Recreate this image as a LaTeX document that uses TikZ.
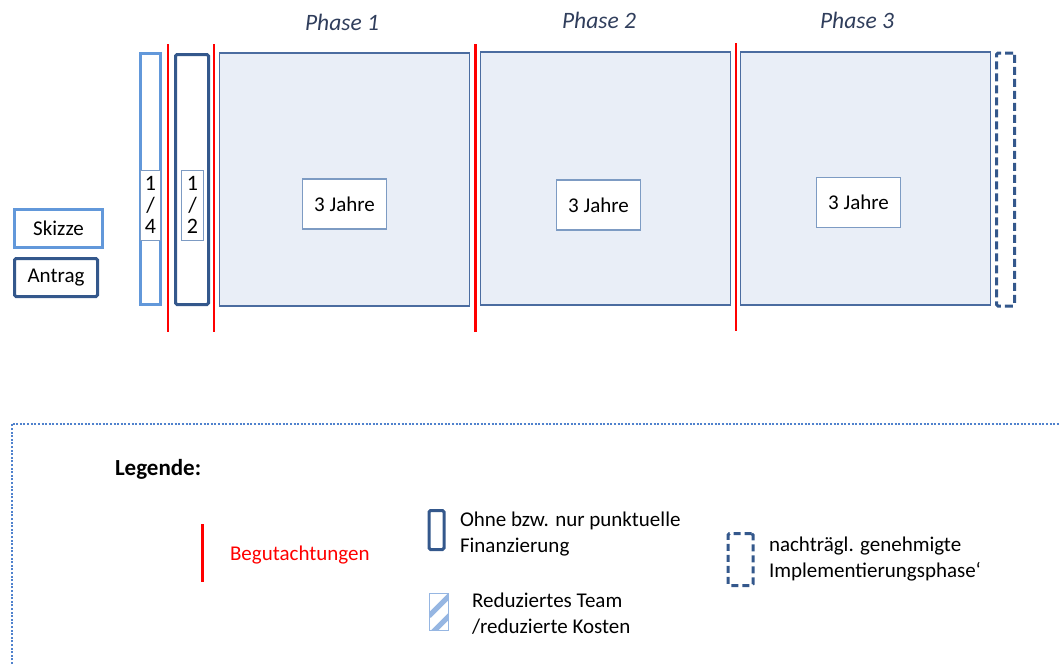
\documentclass[tikz,border=0pt]{standalone}
\usepackage{fontspec}
\setmainfont{Carlito}
\definecolor{skizzeblue}{RGB}{98,152,218}
\definecolor{antragblue}{RGB}{52,88,140}
\definecolor{phasefill}{RGB}{233,238,247}
\definecolor{phaseedge}{RGB}{75,108,160}
\definecolor{innerEdge}{RGB}{125,155,195}
\definecolor{phasetext}{RGB}{48,62,92}
\definecolor{legendblue}{RGB}{80,130,205}
\definecolor{hatchblue}{RGB}{150,182,226}
\begin{document}
\begin{tikzpicture}[x=1pt,y=-1pt,
  every node/.style={inner sep=0pt, outer sep=0pt},
  txt/.style={font=\fontsize{21}{26}\selectfont, text=black},
  skizzebox/.style={draw=skizzeblue, line width=2.6pt, fill=white, anchor=north west},
  antragbox/.style={draw=antragblue, line width=3pt, fill=white, rounded corners=1.5pt, anchor=north west},
  phasebox/.style={draw=phaseedge, line width=1.3pt, fill=phasefill, anchor=north west},
  yearbox/.style={draw=innerEdge, line width=1.2pt, fill=white, anchor=north west, txt,
    minimum width=84pt, minimum height=50pt},
  fracbox/.style={draw=innerEdge, line width=1pt, fill=white, anchor=north west, align=center,
    font=\fontsize{22}{21.5}\selectfont},
  laterbox/.style={draw=antragblue, line width=3pt, dash pattern=on 8pt off 4pt, rounded corners=1.5pt, anchor=north west},
  review/.style={draw=red, line width=2.8pt},
  phaselabel/.style={font=\fontsize{23.5}{28}\selectfont\itshape, text=phasetext},
  legtext/.style={txt, align=left, anchor=west}]
\useasboundingbox (0,0) rectangle (1059,664);
\clip (0,0) rectangle (1059,664);

% application stages on the left
\node[skizzebox, txt, minimum width=88pt, minimum height=38pt] (skizze) at (14.5,209.5) {Skizze\hspace{10pt}};
\node[antragbox, txt, minimum width=83pt, minimum height=38pt] (antrag) at (14.5,258.5) {Antrag};

% reduced preparatory bars
\node[skizzebox, minimum width=20pt, minimum height=251pt] (sbar) at (140.5,53.5) {};
\node[fracbox, minimum width=20pt, minimum height=70pt] (quarter) at (140.5,170) {1\\/\\4};
\node[antragbox, minimum width=33pt, minimum height=250pt] (abar) at (175.5,54.5) {};
\node[fracbox, minimum width=22pt, minimum height=70pt] (half) at (181.5,170) {1\\/\\2};

% the three phases
\node[phasebox, minimum width=250pt, minimum height=253pt] (ph1) at (219.5,53) {};
\node[phasebox, minimum width=250pt, minimum height=253pt] (ph2) at (480.5,52) {};
\node[phasebox, minimum width=250pt, minimum height=253pt] (ph3) at (740.5,52) {};
\node[yearbox] (y1) at (302.5,179) {3 Jahre};
\node[yearbox] (y2) at (556.5,180) {3 Jahre};
\node[yearbox] (y3) at (816.5,177.5) {3 Jahre};
\node[phaselabel] (l1) at (342,22) {Phase 1};
\node[phaselabel] (l2) at (599,20) {Phase 2};
\node[phaselabel] (l3) at (857,20) {Phase 3};

% optional implementation phase
\node[laterbox, minimum width=18pt, minimum height=253pt] (impl) at (996.5,53) {};

% review points
\coordinate (r1a) at (168,44); \coordinate (r1b) at (168,332);
\coordinate (r2a) at (214,44); \coordinate (r2b) at (214,332);
\coordinate (r3a) at (475.5,44); \coordinate (r3b) at (475.5,332);
\coordinate (r4a) at (736,43); \coordinate (r4b) at (736,331);
\draw[review] (r1a) -- (r1b);
\draw[review] (r2a) -- (r2b);
\draw[review] (r3a) -- (r3b);
\draw[review] (r4a) -- (r4b);

% legend frame
\draw[legendblue, line width=2pt, dash pattern=on 2pt off 1.6pt] (12,700) -- (12,423.5) -- (1100,423.5);
\node[txt, font=\fontsize{23}{28}\selectfont\bfseries, anchor=west] (leg) at (115,469) {Legende:};

% legend: reviews
\coordinate (lr1) at (202.5,524); \coordinate (lr2) at (202.5,582);
\draw[review] (lr1) -- (lr2);
\node[legtext, text=red] (legrev) at (230,555) {Begutachtungen};

% legend: no or partial funding
\node[antragbox, minimum width=15pt, minimum height=39pt] (legfund) at (429,510.5) {};
\node[legtext, anchor=north west] (legfundt) at (460,512) {Ohne bzw. nur punktuelle\\Finanzierung};

% legend: reduced team
\node[draw=hatchblue, line width=0.8pt, fill=white, minimum width=19pt, minimum height=37pt, anchor=north west] (leghatch) at (429,593) {};
\begin{scope}
  \clip (leghatch.north west) rectangle (leghatch.south east);
  \foreach \d in {-26,-6,14} {
    \draw[hatchblue, line width=5pt] ([yshift=\d pt]leghatch.south west) -- ++(40,-40);
  }
\end{scope}
\node[legtext, anchor=north west] (leghatcht) at (472,593) {Reduziertes Team\\/reduzierte Kosten};

% legend: later implementation phase
\node[laterbox, minimum width=25pt, minimum height=52pt, dash pattern=on 7pt off 4pt] (leglater) at (728,533.5) {};
\node[legtext, anchor=north west] (leglatert) at (769,537) {nachträgl. genehmigte\\Implementierungsphase‘};
\end{tikzpicture}
\end{document}
